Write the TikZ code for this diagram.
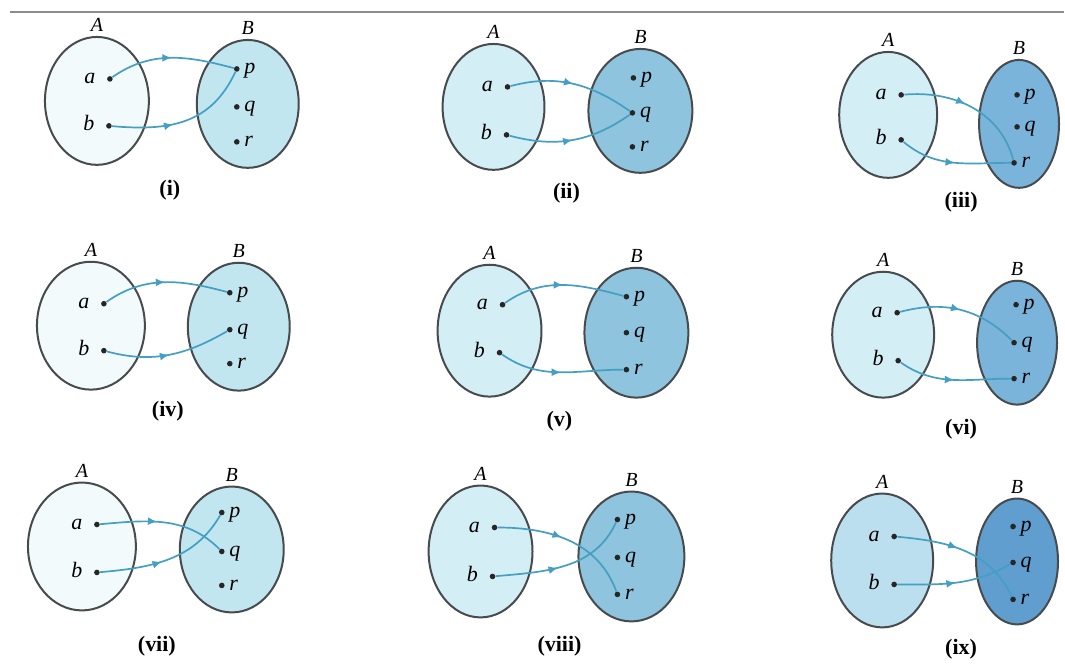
\documentclass[tikz,border=0pt]{standalone}
\usepackage{fontspec}
\setmainfont{Liberation Serif}
\usetikzlibrary{arrows.meta,shapes.geometric,decorations.markings}
\definecolor{Rim}{HTML}{474B4D}
\definecolor{Arrow}{HTML}{449FC2}
\definecolor{Rule}{HTML}{8C8C8C}
\definecolor{Pale}{HTML}{F3FAFC}
\definecolor{Light}{HTML}{D4EEF5}
\definecolor{Cyan}{HTML}{C2E6EF}
\definecolor{Mid}{HTML}{8EC4DD}
\definecolor{Deep}{HTML}{7BB4DA}
\definecolor{LightIx}{HTML}{BCDFEF}
\definecolor{DeepIx}{HTML}{5F9ECE}

\begin{document}
\begin{tikzpicture}[x=0.5pt,y=0.5pt,
  set/.style={ellipse,draw=Rim,line width=1pt,inner sep=0pt},
  setA/.style={set,label={[font=\itshape,label distance=-1.5pt]above:A}},
  setB/.style={set,label={[font=\itshape,label distance=-1.5pt]above:B}},
  elem/.style={circle,fill=black!85,inner sep=0pt,minimum size=2.8pt},
  tag/.style={font=\fontsize{11}{13}\selectfont\itshape,inner sep=1pt,text height=1ex,text depth=0pt},
  dom/.style={elem,label={[tag,label distance=4.5pt]left:#1}},
  cod/.style={elem,label={[tag,label distance=1pt]right:#1}},
  capt/.style={font=\fontsize{11}{13}\selectfont\bfseries},
  maparrow/.style={draw=Arrow,line width=0.85pt,postaction={decorate},
    decoration={markings,mark=at position #1 with {\arrow{Latex[length=4.6pt,width=4pt,color=Arrow]}}}},
  maparrow/.default=0.5]
\path[fill=white] (0,0) rectangle (1065,-666);
\draw[Rule,line width=1pt] (10,-12) -- (1065,-12);

\node[setA,fill=Pale,minimum width=52pt,minimum height=64pt] (A1) at (97,-101) {};
\node[setB,fill=Cyan,minimum width=51pt,minimum height=64pt] (B1) at (248,-104) {};
\node[dom=a] (a1) at (110,-79) {};
\node[dom=b] (b1) at (109,-126) {};
\node[cod=p] (p1) at (237,-69) {};
\node[cod=q] (q1) at (237,-107) {};
\node[cod=r] (r1) at (237,-142) {};
\draw[maparrow] (a1) to[out=35,in=165] (p1);
\draw[maparrow=0.42] (b1) to[out=-5,in=245,looseness=1.1] (p1);
\node[capt] (cap1) at (170,-190) {(i)};

\node[setA,fill=Light,minimum width=51pt,minimum height=63pt] (A2) at (494,-107) {};
\node[setB,fill=Mid,minimum width=52pt,minimum height=62pt] (B2) at (641,-111) {};
\node[dom=a] (a2) at (508,-87) {};
\node[dom=b] (b2) at (507,-135) {};
\node[cod=p] (p2) at (634,-78) {};
\node[cod=q] (q2) at (633,-113) {};
\node[cod=r] (r2) at (633,-147) {};
\draw[maparrow] (a2) to[out=15,in=145] (q2);
\draw[maparrow] (b2) to[out=-15,in=215] (q2);
\node[capt] (cap2) at (567,-193) {(ii)};

\node[setA,fill=Light,minimum width=49pt,minimum height=63pt] (A3) at (889,-115) {};
\node[setB,fill=Deep,minimum width=40pt,minimum height=64pt] (B3) at (1020,-124) {};
\node[dom=a] (a3) at (902,-95) {};
\node[dom=b] (b3) at (902,-140) {};
\node[cod=p] (p3) at (1018,-95) {};
\node[cod=q] (q3) at (1018,-127) {};
\node[cod=r] (r3) at (1015,-163) {};
\draw[maparrow=0.45] (a3) to[out=5,in=105] (r3);
\draw[maparrow] (b3) to[out=-40,in=180] (r3);
\node[capt] (cap3) at (962,-202) {(iii)};

\node[setA,fill=Pale,minimum width=54pt,minimum height=64pt] (A4) at (91,-326) {};
\node[setB,fill=Cyan,minimum width=51pt,minimum height=64pt] (B4) at (239,-327) {};
\node[dom=a] (a4) at (104,-304) {};
\node[dom=b] (b4) at (104,-351) {};
\node[cod=p] (p4) at (230,-293) {};
\node[cod=q] (q4) at (230,-330) {};
\node[cod=r] (r4) at (230,-364) {};
\draw[maparrow] (a4) to[out=35,in=165] (p4);
\draw[maparrow] (b4) to[out=-15,in=210] (q4);
\node[capt] (cap4) at (168,-412) {(iv)};

\node[setA,fill=Light,minimum width=52pt,minimum height=66pt] (A5) at (490,-331) {};
\node[setB,fill=Mid,minimum width=52pt,minimum height=65pt] (B5) at (637,-333) {};
\node[dom=a] (a5) at (503,-305) {};
\node[dom=b] (b5) at (500,-353) {};
\node[cod=p] (p5) at (627,-297) {};
\node[cod=q] (q5) at (627,-333) {};
\node[cod=r] (r5) at (627,-370) {};
\draw[maparrow] (a5) to[out=35,in=165] (p5);
\draw[maparrow] (b5) to[out=-35,in=180] (r5);
\node[capt] (cap5) at (560,-422) {(v)};

\node[setA,fill=Light,minimum width=51pt,minimum height=63pt] (A6) at (884,-335) {};
\node[setB,fill=Deep,minimum width=40pt,minimum height=62pt] (B6) at (1018,-343) {};
\node[dom=a] (a6) at (898,-313) {};
\node[dom=b] (b6) at (899,-361) {};
\node[cod=p] (p6) at (1017,-305) {};
\node[cod=q] (q6) at (1015,-343) {};
\node[cod=r] (r6) at (1015,-379) {};
\draw[maparrow] (a6) to[out=15,in=135] (q6);
\draw[maparrow] (b6) to[out=-35,in=180] (r6);
\node[capt] (cap6) at (962,-430) {(vi)};

\node[setA,fill=Pale,minimum width=54pt,minimum height=64pt] (A7) at (82,-547) {};
\node[setB,fill=Cyan,minimum width=52pt,minimum height=63pt] (B7) at (232,-550) {};
\node[dom=a] (a7) at (97,-525) {};
\node[dom=b] (b7) at (97,-573) {};
\node[cod=p] (p7) at (222,-513) {};
\node[cod=q] (q7) at (222,-552) {};
\node[cod=r] (r7) at (222,-586) {};
\draw[maparrow=0.45] (a7) to[out=5,in=135] (q7);
\draw[maparrow=0.45] (b7) to[out=5,in=240] (p7);
\node[capt] (cap7) at (157,-647) {(vii)};

\node[setA,fill=Light,minimum width=52pt,minimum height=66pt] (A8) at (481,-552) {};
\node[setB,fill=Mid,minimum width=53pt,minimum height=65pt] (B8) at (632,-557) {};
\node[dom=a] (a8) at (495,-528) {};
\node[dom=b] (b8) at (493,-577) {};
\node[cod=p] (p8) at (618,-520) {};
\node[cod=q] (q8) at (618,-558) {};
\node[cod=r] (r8) at (618,-595) {};
\draw[maparrow=0.45] (a8) to[out=0,in=110] (r8);
\draw[maparrow=0.45] (b8) to[out=5,in=245] (p8);
\node[capt] (cap8) at (560,-647) {(viii)};

\node[setA,fill=LightIx,minimum width=51pt,minimum height=67pt] (A9) at (883,-561) {};
\node[setB,fill=DeepIx,minimum width=41pt,minimum height=63pt] (B9) at (1018,-562) {};
\node[dom=a] (a9) at (895,-537) {};
\node[dom=b] (b9) at (895,-585) {};
\node[cod=p] (p9) at (1014,-527) {};
\node[cod=q] (q9) at (1014,-563) {};
\node[cod=r] (r9) at (1014,-600) {};
\draw[maparrow=0.45] (a9) to[out=-5,in=115] (r9);
\draw[maparrow] (b9) to[out=0,in=210] (q9);
\node[capt] (cap9) at (962,-650) {(ix)};
\end{tikzpicture}
\end{document}
